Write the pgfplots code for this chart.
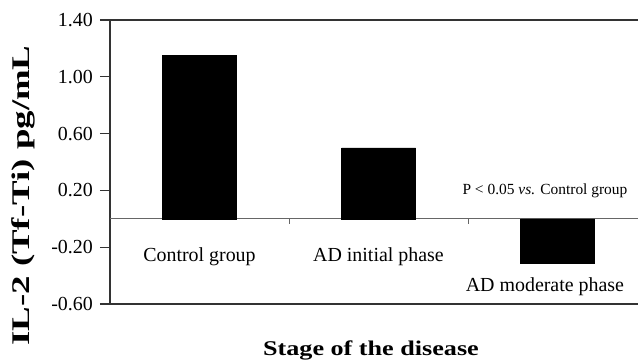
\documentclass[border=0pt]{standalone}
\usepackage{pgfplots}
\pgfplotsset{compat=1.18}
\usepackage{fontspec}
\usepackage{graphicx}
\setmainfont{Liberation Serif}
\begin{document}
\begin{tikzpicture}
\useasboundingbox (0,0) rectangle (638bp,362bp);
\clip (0,0) rectangle (638bp,362bp);
\begin{axis}[
  at={(110bp,58bp)}, anchor=south west,
  scale only axis,
  width=537bp, height=284bp,
  xmin=-0.5, xmax=2.5,
  ymin=-0.6, ymax=1.4,
  separate axis lines,
  axis x line*=box,
  axis y line*=left,
  axis line style={black!80, line width=1.6bp},
  xtick=\empty,
  ytick={-0.6,-0.2,0.2,0.6,1.0,1.4},
  tick align=outside,
  major tick length=10bp,
  tick style={black!80, line width=1.2bp},
  /pgf/number format/assume math mode=true,
  yticklabel style={font=\fontsize{20}{22}\selectfont, inner sep=2bp, xshift=-5bp, /pgf/number format/.cd, fixed, fixed zerofill, precision=2},
  ylabel={\scalebox{1.45}[1]{\bfseries IL-2 (Tf-Ti) pg/mL}},
  ylabel style={font=\fontsize{25.5}{28}\selectfont, at={(axis description cs:-0.162,0.382)}, anchor=center, rotate=0},
  xlabel={\scalebox{1.25}[1]{\bfseries Stage of the disease}},
  xlabel style={font=\fontsize{21}{24}\selectfont, at={(axis description cs:0.486,-0.180)}, anchor=base},
  clip=false,
]
\draw[black!60, line width=0.8bp] (axis cs:-0.5,0) -- (axis cs:2.5,0);
\draw[black!60, line width=0.8bp] (axis cs:0.5,0) -- ([yshift=-5bp]axis cs:0.5,0);
\draw[black!60, line width=0.8bp] (axis cs:1.5,0) -- ([yshift=-5bp]axis cs:1.5,0);
\addplot[ybar, bar width=74bp, bar shift=0pt, fill=black, draw=black] coordinates {(0,1.15) (1,0.50) (2,-0.31)};
\node[font=\fontsize{20}{24}\selectfont, anchor=base] at (axis cs:0,-0.30) {Control group};
\node[font=\fontsize{20}{24}\selectfont, anchor=base] at (axis cs:1,-0.30) {AD initial phase};
\node[font=\fontsize{20}{24}\selectfont, anchor=base] at (axis cs:1.93,-0.515) {AD moderate phase};
\node[font=\fontsize{15.5}{18}\selectfont, anchor=base] at (axis cs:1.93,0.17) {P < 0.05 \textit{vs.} Control group};
\end{axis}
\end{tikzpicture}
\end{document}
